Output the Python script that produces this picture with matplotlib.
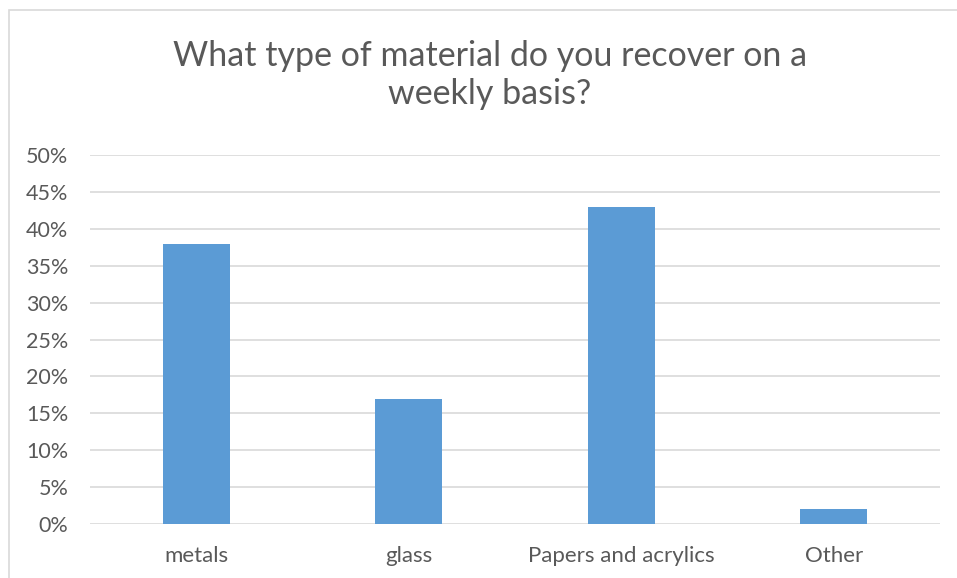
import matplotlib
matplotlib.use("Agg")
import matplotlib.pyplot as plt
from matplotlib.patches import Rectangle
from matplotlib.ticker import PercentFormatter

categories = ["metals", "glass", "Papers and acrylics", "Other"]
shares = [38, 17, 43, 2]
yticks = [0, 5, 10, 15, 20, 25, 30, 35, 40, 45, 50]

txt = "#595959"
plt.rcParams['font.family'] = ['Lato', 'DejaVu Sans']

W, H = 957, 578
fig = plt.figure(figsize=(W / 100, H / 100), dpi=100)

# chart border (cut off at right and bottom in the reference)
fig.patches.append(Rectangle((9 / W, -0.1), 1.2, 1 - 10 / H + 0.1,
                             transform=fig.transFigure, fill=False,
                             edgecolor="#d9d9d9", linewidth=1.2))

ax = fig.add_axes([90 / W, 1 - 524 / H, 850 / W, 369 / H])
x = range(len(categories))
ax.bar(x, shares, width=0.315, color="#5b9bd5", zorder=3)

ax.set_xlim(-0.5, len(categories) - 0.5)
ax.set_ylim(0, 50)
ax.set_yticks(yticks)
ax.yaxis.set_major_formatter(PercentFormatter(decimals=0))
ax.set_xticks(list(x))
ax.set_xticklabels(categories)
ax.grid(axis="y", color="#d9d9d9", linewidth=1.2, zorder=0)
for s in ax.spines.values():
    s.set_visible(False)
ax.tick_params(length=0, colors=txt)
ax.tick_params(axis="y", labelsize=15.5, pad=15.5)
ax.tick_params(axis="x", labelsize=16, pad=16)

fig.text(490 / W, 1 - 75 / H, "What type of material do you recover on a\nweekly basis?",
         ha="center", va="center", fontsize=24.5, color=txt, linespacing=1.25)

fig.savefig("out.png", dpi=100)
